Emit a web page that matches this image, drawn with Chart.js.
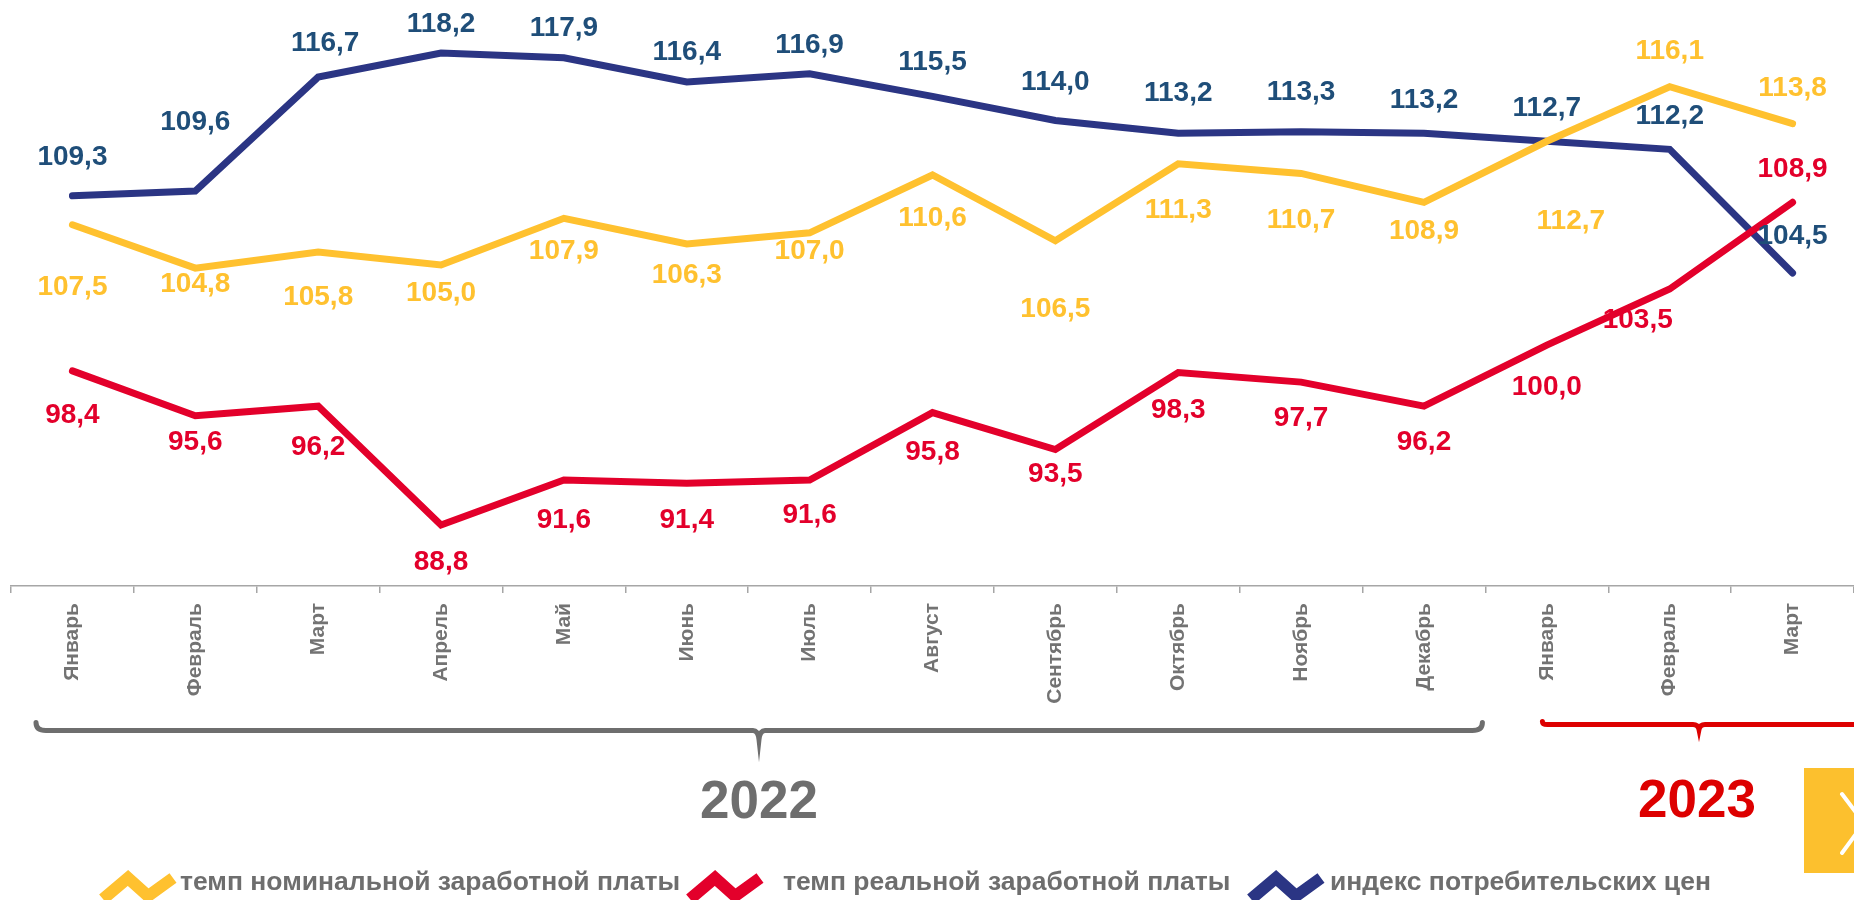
<!DOCTYPE html>
<html lang="ru">
<head>
<meta charset="utf-8">
<title>Темпы заработной платы и ИПЦ</title>
<script src="https://cdn.jsdelivr.net/npm/chart.js@4.4.1/dist/chart.umd.min.js"></script>
<style>
  html, body { margin: 0; padding: 0; background: #fff; overflow: hidden; }
  #wrap { width: 1854px; height: 900px; }
</style>
</head>
<body>
<div id="wrap"><canvas id="myChart" width="1854" height="900"></canvas></div>
<script>
const months = ['Январь', 'Февраль', 'Март', 'Апрель', 'Май', 'Июнь', 'Июль', 'Август',
    'Сентябрь', 'Октябрь', 'Ноябрь', 'Декабрь', 'Январь', 'Февраль', 'Март']
const years = ['2022', '2023']
const monthsIn2022 = 12

const nominalWage = [107.5, 104.8, 105.8, 105.0, 107.9, 106.3, 107.0, 110.6, 106.5, 111.3, 110.7, 108.9, 112.7, 116.1, 113.8]
const realWage = [98.4, 95.6, 96.2, 88.8, 91.6, 91.4, 91.6, 95.8, 93.5, 98.3, 97.7, 96.2, 100.0, 103.5, 108.9]
const cpi = [109.3, 109.6, 116.7, 118.2, 117.9, 116.4, 116.9, 115.5, 114.0, 113.2, 113.3, 113.2, 112.7, 112.2, 104.5]

const seriesNames = ['темп номинальной заработной платы', 'темп реальной заработной платы', 'индекс потребительских цен']

// where each value label sits relative to its point [dx, dy]
const nominalShift = [[0, 63], [0, 16], [0, 45], [0, 28], [0, 33], [0, 31], [0, 18], [0, 43], [0, 68], [0, 47], [0, 47], [0, 29], [24, 80], [0, -35], [0, -35]]
const realShift = [[0, 44], [0, 26], [0, 41], [0, 37], [0, 40], [0, 37], [0, 35], [0, 40], [0, 25], [0, 38], [0, 36], [0, 36], [0, 42], [-32, 31], [0, -33]]
const cpiShift = [[0, -39], [0, -69], [7, -34], [0, -29], [0, -30], [0, -30], [0, -29], [0, -34], [0, -38], [0, -40], [0, -39], [0, -33], [0, -33], [0, -33], [0, -37]]

const lineColors = ['#FFC12F', '#E3002B', '#2B3584']
const labelColors = ['#FFC12F', '#E3002B', '#1F4E79']
const shifts = [nominalShift, realShift, cpiShift]

const GRAY = '#6E6E6E'
const fmt = v => v.toFixed(1).replace('.', ',')

function brace(ctx, x1, x2, xm, y, up, down, color) {
    ctx.save()
    ctx.strokeStyle = color
    ctx.lineWidth = 5
    ctx.lineCap = 'round'
    ctx.beginPath()
    ctx.moveTo(x1, y - up)
    ctx.quadraticCurveTo(x1, y, x1 + up + 2, y)
    ctx.lineTo(xm - 6, y)
    ctx.quadraticCurveTo(xm - 1, y, xm, y + down)
    ctx.quadraticCurveTo(xm + 1, y, xm + 6, y)
    ctx.lineTo(x2 - up - 2, y)
    ctx.quadraticCurveTo(x2, y, x2, y - up)
    ctx.stroke()
    ctx.restore()
}

function zigzag(ctx, x, y, color) {
    ctx.save()
    ctx.strokeStyle = color
    ctx.lineWidth = 12
    ctx.lineCap = 'butt'
    ctx.lineJoin = 'miter'
    ctx.beginPath()
    ctx.moveTo(x, y + 21)
    ctx.lineTo(x + 25, y)
    ctx.lineTo(x + 45, y + 18)
    ctx.lineTo(x + 70, y)
    ctx.stroke()
    ctx.restore()
}

const decor = {
    id: 'decor',
    afterDatasetsDraw(chart) {
        const ctx = chart.ctx
        ctx.save()
        ctx.font = 'bold 28px "Liberation Sans", Arial, sans-serif'
        ctx.textAlign = 'center'
        ctx.textBaseline = 'middle'
        chart.data.datasets.forEach((ds, di) => {
            const meta = chart.getDatasetMeta(di)
            ctx.fillStyle = labelColors[di]
            meta.data.forEach((pt, i) => {
                const [dx, dy] = shifts[di][i]
                ctx.fillText(fmt(ds.data[i]), pt.x + dx, pt.y + dy)
            })
        })
        ctx.restore()
    },
    afterDraw(chart) {
        const ctx = chart.ctx
        const xs = chart.scales.x
        const step = xs.getPixelForValue(1) - xs.getPixelForValue(0)
        const split = xs.getPixelForValue(monthsIn2022 - 1) + step / 2

        // year braces
        const mid22 = 759, mid23 = 1699
        brace(ctx, chart.chartArea.left + 25, split - 3, mid22, 730.5, 8, 9, GRAY)
        brace(ctx, split + 57, chart.width + 60, mid23, 724.5, 3, 5, '#DD0000')

        ctx.save()
        ctx.font = 'bold 53px "Liberation Sans", Arial, sans-serif'
        ctx.textAlign = 'center'
        ctx.textBaseline = 'alphabetic'
        ctx.fillStyle = GRAY
        ctx.fillText(years[0], mid22, 818)
        ctx.fillStyle = '#DD0000'
        ctx.fillText(years[1], mid23 - 2, 817)
        ctx.restore()

        // legend
        const items = [[103, 180], [690, 783], [1251, 1330]]
        ctx.save()
        ctx.font = 'bold 26.5px "Liberation Sans", Arial, sans-serif'
        ctx.textBaseline = 'alphabetic'
        ctx.textAlign = 'left'
        ctx.fillStyle = GRAY
        items.forEach(([ix, tx], i) => {
            zigzag(ctx, ix, 878, lineColors[i])
            ctx.fillText(seriesNames[i], tx, 890)
        })
        ctx.restore()

        // next-slide button
        ctx.save()
        ctx.fillStyle = '#FCC02E'
        ctx.fillRect(1804, 768, 60, 105)
        ctx.strokeStyle = '#fff'
        ctx.lineWidth = 4
        ctx.lineCap = 'round'
        ctx.beginPath()
        ctx.moveTo(1842, 794)
        ctx.lineTo(1864, 823)
        ctx.lineTo(1842, 853)
        ctx.stroke()
        ctx.restore()
    }
}

new Chart(document.getElementById('myChart'), {
    type: 'line',
    data: {
        labels: months,
        datasets: [nominalWage, realWage, cpi].map((d, i) => ({
            label: seriesNames[i],
            data: d,
            borderColor: lineColors[i],
            backgroundColor: lineColors[i],
            borderWidth: 7,
            borderCapStyle: 'round',
            borderJoinStyle: 'miter',
            pointRadius: 0,
            tension: 0,
            order: [1, 0, 2][i]
        }))
    },
    options: {
        responsive: false,
        animation: false,
        devicePixelRatio: 1,
        layout: { padding: { left: 11, right: 0, top: 0, bottom: 0 } },
        plugins: { legend: { display: false }, tooltip: { enabled: false } },
        scales: {
            x: {
                offset: true,
                grid: { offset: true, drawOnChartArea: false, drawTicks: true, tickLength: 7, color: '#A6A6A6', lineWidth: 1.5 },
                border: { display: true, color: '#A6A6A6', width: 1.5 },
                ticks: {
                    minRotation: 90, maxRotation: 90, autoSkip: false, padding: 10,
                    color: '#737373',
                    font: { family: '"Liberation Sans", Arial, sans-serif', size: 21, weight: 'bold' }
                },
                afterFit: s => { s.height = 314 }
            },
            y: { display: false, min: 85, max: 121.5 }
        }
    },
    plugins: [decor]
})
</script>
</body>
</html>
